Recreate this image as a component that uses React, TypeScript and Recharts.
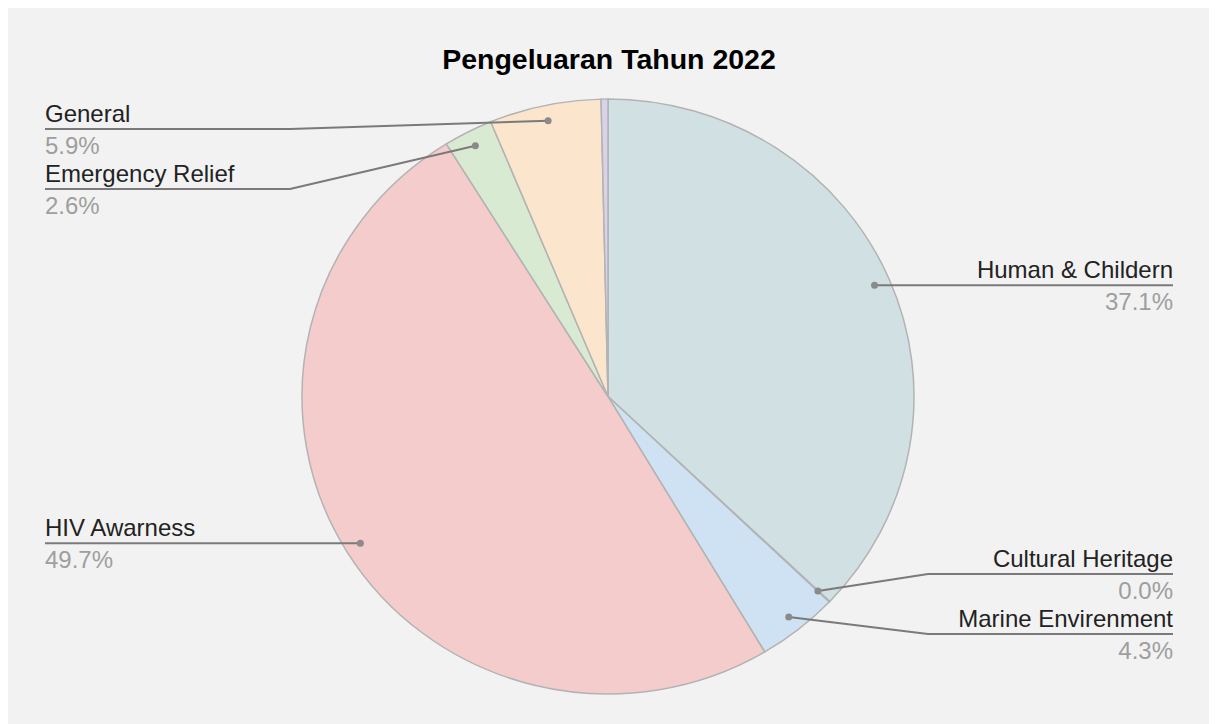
import React from 'react';
import { Cell, Pie, PieChart } from 'recharts';

const title = 'Pengeluaran Tahun 2022';
const categories = [
  'Human & Childern',
  'Cultural Heritage',
  'Marine Envirenment',
  'HIV Awarness',
  'Emergency Relief',
  'General',
  'Lainnya',
];
const values = [37.1, 0.04, 4.3, 49.7, 2.6, 5.9, 0.36];
const colors = ['#d0e0e3', '#fff2cc', '#cfe2f3', '#f4cccc', '#d9ead3', '#fce5cd', '#d9d2e9'];
const hiddenLabels = ['Lainnya'];

const W = 1203;
const H = 716;
const CX = 600;
const CY = 388.5;
const R = 306;
// the reference pie is a little flatter than it is wide
const SQUASH = 0.972;
const DOT_INSET = 16;
const LABEL_TOP = 121;
const LABEL_BOTTOM = 680;
const LABEL_GAP = 60;
const TEXT_LEFT = 37;
const TEXT_RIGHT = W - 38;
const ELBOW = 245;
const FONT = '"Liberation Sans", Arial, sans-serif';
const RAD = Math.PI / 180;

const total = values.reduce((a, b) => a + b, 0);
const data = categories.map((name, i) => ({ name, value: values[i] }));

// same angles Recharts uses for startAngle 90 -> endAngle -270
const midAngles = (() => {
  let acc = 0;
  return values.map(v => {
    const start = 90 - (acc / total) * 360;
    acc += v;
    const end = 90 - (acc / total) * 360;
    return (start + end) / 2;
  });
})();

type Item = { i: number; y: number };

// push overlapping labels apart, keeping each group centred on its dots
const spread = (items: Item[], out: Record<number, number>) => {
  items.sort((a, b) => a.y - b.y);
  const clusters = items.map(it => ({ items: [it], top: it.y }));
  const place = (c: { items: Item[]; top: number }) => {
    const n = c.items.length;
    const mean = c.items.reduce((s, it) => s + it.y, 0) / n;
    let top = mean - ((n - 1) * LABEL_GAP) / 2;
    top = Math.min(top, LABEL_BOTTOM - (n - 1) * LABEL_GAP);
    c.top = Math.max(LABEL_TOP, top);
  };
  clusters.forEach(place);
  let merged = true;
  while (merged) {
    merged = false;
    for (let k = 1; k < clusters.length; k++) {
      const p = clusters[k - 1];
      const c = clusters[k];
      if (c.top < p.top + p.items.length * LABEL_GAP) {
        p.items.push(...c.items);
        place(p);
        clusters.splice(k, 1);
        merged = true;
        break;
      }
    }
  }
  clusters.forEach(c => c.items.forEach((it, j) => (out[it.i] = c.top + j * LABEL_GAP)));
};

const labelY: Record<number, number> = (() => {
  const left: Item[] = [];
  const right: Item[] = [];
  midAngles.forEach((a, i) => {
    if (hiddenLabels.includes(categories[i])) return;
    const y = CY - (R - DOT_INSET) * SQUASH * Math.sin(a * RAD);
    (Math.cos(a * RAD) >= 0 ? right : left).push({ i, y });
  });
  const out: Record<number, number> = {};
  spread(left, out);
  spread(right, out);
  return out;
})();

const renderLabel = (props: any) => {
  const { cx, cy, midAngle, outerRadius, index } = props;
  const ly = labelY[index];
  if (ly === undefined) return null;
  const rad = -midAngle * RAD;
  const dotX = cx + (outerRadius - DOT_INSET) * Math.cos(rad);
  const dotY = cy + (outerRadius - DOT_INSET) * SQUASH * Math.sin(rad);
  const right = Math.cos(rad) >= 0;
  const edge = right ? TEXT_RIGHT : TEXT_LEFT;
  const elbow = right ? edge - ELBOW : edge + ELBOW;
  const pct = `${((values[index] / total) * 100).toFixed(1)}%`;
  const anchor = right ? 'end' : 'start';
  return (
    <g key={`label-${index}`}>
      <polyline
        points={`${dotX},${dotY} ${elbow},${ly} ${edge},${ly}`}
        fill="none"
        stroke="#7a7a7a"
        strokeWidth={2}
      />
      <circle cx={dotX} cy={dotY} r={3.5} fill="#8a8a8a" />
      <text x={edge} y={ly - 7} textAnchor={anchor} fontSize={24} fontFamily={FONT} fill="#222222">
        {categories[index]}
      </text>
      <text x={edge} y={ly + 25} textAnchor={anchor} fontSize={24} fontFamily={FONT} fill="#9e9e9e">
        {pct}
      </text>
    </g>
  );
};

export default function App() {
  return (
    <div style={{ position: 'relative', width: W, height: H, background: '#f2f2f2' }}>
      <style>{`.pie-slice { transform: scaleY(${SQUASH}); transform-origin: ${CX}px ${CY}px; }`}</style>
      <PieChart width={W} height={H} margin={{ top: 0, right: 0, bottom: 0, left: 0 }}>
        <Pie
          data={data}
          dataKey="value"
          nameKey="name"
          cx={CX}
          cy={CY}
          outerRadius={R}
          startAngle={90}
          endAngle={-270}
          label={renderLabel}
          labelLine={false}
          isAnimationActive={false}
        >
          {data.map((d, i) => (
            <Cell key={d.name} className="pie-slice" fill={colors[i]} stroke="#b3b3b3" strokeWidth={1.5} />
          ))}
        </Pie>
      </PieChart>
      <svg width={W} height={80} style={{ position: 'absolute', left: 0, top: 0, pointerEvents: 'none' }}>
        <text x={601} y={61} textAnchor="middle" fontSize={28.5} fontWeight="bold" fontFamily={FONT} fill="#000">
          {title}
        </text>
      </svg>
    </div>
  );
}
